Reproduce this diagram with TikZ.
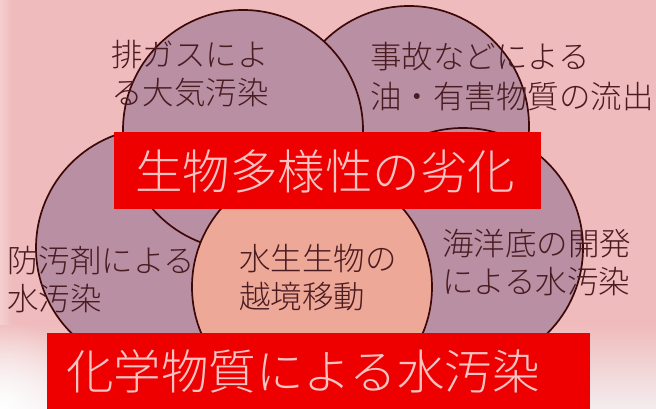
\documentclass[tikz,border=0pt]{standalone}
\usepackage{fontspec}
\usetikzlibrary{fadings}
\IfFontExistsTF{Noto Sans CJK JP Light}
  {\newfontfamily\jpfont{Noto Sans CJK JP Light}}
  {\newfontfamily\jpfont{Noto Sans CJK JP}}
\definecolor{bgpink}{HTML}{F0BBBC}
\definecolor{bgwhite}{HTML}{F3EDEF}
\definecolor{mauve}{HTML}{B98FA3}
\definecolor{salmon}{HTML}{EEA898}
\definecolor{rim}{HTML}{3C0808}
\definecolor{boxred}{HTML}{EE0000}
\definecolor{boxtext}{HTML}{F7C4C4}
\definecolor{ink}{HTML}{4A1C22}
\tikzfading[name=cornerfade, inner color=transparent!0, outer color=transparent!100]
\tikzset{
  petal/.style={circle, draw=rim, line width=1.7pt, fill=mauve, minimum size=240pt, inner sep=0pt},
  hub/.style={petal, fill=salmon},
  smalltxt/.style={text=ink, font=\jpfont\fontsize{31.5}{38}\selectfont, align=left, anchor=west, inner sep=0pt},
  bigtxt/.style={text=boxtext, font=\jpfont\fontsize{47.5}{52}\selectfont, anchor=west, inner sep=0pt},
  banner/.style={fill=boxred, draw=none, inner sep=0pt, anchor=north west}
}
\begin{document}
\begin{tikzpicture}[x=1pt,y=-1pt]
\useasboundingbox (0,0) rectangle (656,409);
\fill[bgpink] (0,0) rectangle (656,409);
\fill[white!30!bgpink, path fading=east] (0,0) rectangle (12,409);
\shade[top color=bgpink, bottom color=bgwhite] (0,325) rectangle (656,409);
\fill[white, path fading=cornerfade, fit fading=true] (-90,319) rectangle (90,499);
% circles
\node[petal] (tr) at (409,126) {};
\node[petal] (rt) at (463,248) {};
\node[petal] (lf) at (156,248) {};
\node[petal] (tl) at (243,130) {};
\node[hub]   (ct) at (312,287) {};
% texts
\node[smalltxt] (ttl) at (111,74) {排ガスによ\\る大気汚染};
\node[smalltxt] (ttr) at (370,77) {事故などによる\\[2pt]油・有害物質の流出};
\node[smalltxt] (tlf) at (7,280) {防汚剤による\\水汚染};
\node[smalltxt] (tct) at (239,278) {水生生物の\\越境移動};
\node[smalltxt] (trt) at (442,262.5) {海洋底の開発\\による水汚染};
% banners
\node[banner, minimum width=427pt, minimum height=77pt] (b1) at (114,132) {};
\node[bigtxt] (t1) at (135,171) {生物多様性の劣化};
\node[banner, minimum width=543pt, minimum height=76pt] (b2) at (47,333) {};
\node[bigtxt] (t2) at (66,371) {化学物質による水汚染};
\end{tikzpicture}
\end{document}
